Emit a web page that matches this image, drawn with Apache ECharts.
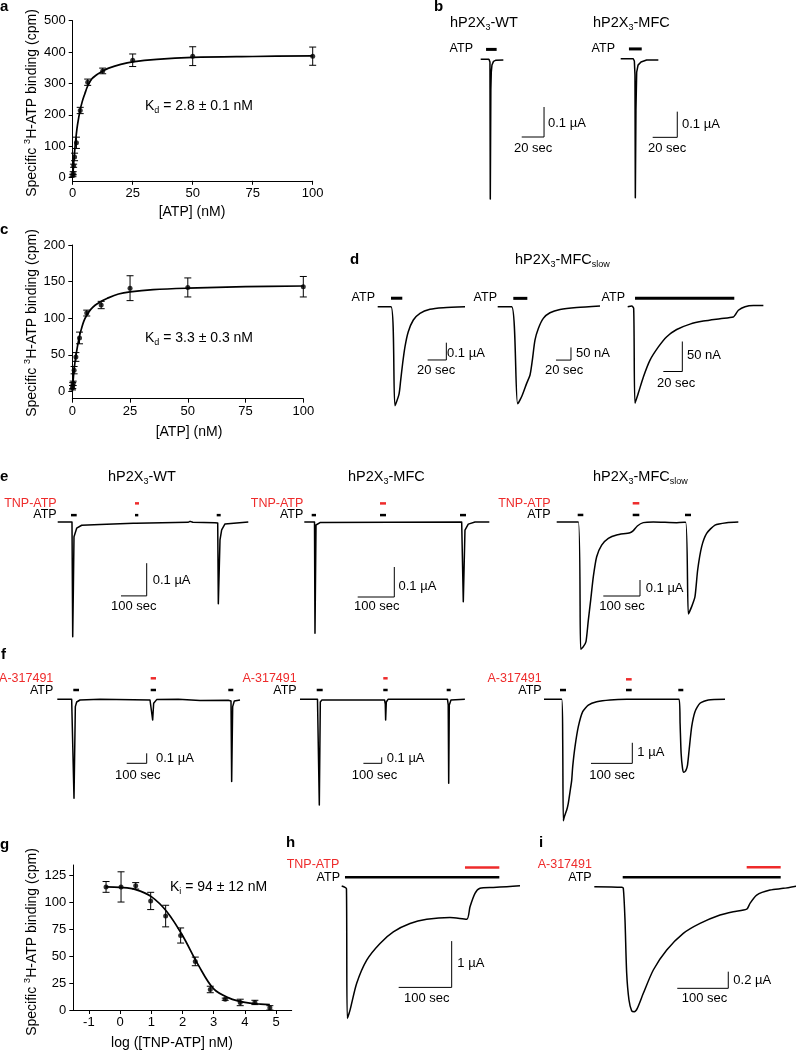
<!DOCTYPE html>
<html>
<head>
<meta charset="utf-8">
<script src="https://cdn.jsdelivr.net/npm/echarts@6/dist/echarts.min.js"></script>
<style>
html, body { margin: 0; padding: 0; background: #fff; }
#chart { width: 796px; height: 1050px; }
</style>
</head>
<body>
<div id="chart"></div>
<script>
// ---------- binding data (a, c, g) ----------
const atpNm = [0.1, 0.2, 0.39, 0.78, 1.56, 3.13, 6.25, 12.5, 25, 50, 100];
const wtBound = [7, 14, 38, 66, 111, 214, 304, 340, 374, 387, 387];
const wtSem = [4, 5, 5, 12, 18, 10, 10, 9, 20, 30, 29];
const mfcBound = [5, 8, 11, 29, 47, 73, 107, 118, 141, 142, 143];
const mfcSem = [3, 4, 3, 5, 6, 8, 4, 5, 17, 13, 14];
const fitNm = [0, 0.5, 1, 1.5, 2, 3, 4, 5, 6.25, 8, 10, 12.5, 15, 20, 25, 35, 50, 75, 100];
const wtFit = [0, 55, 100, 138, 168, 212, 243, 266, 292, 315, 328, 340, 349, 361, 369, 377, 383, 386, 388];
const mfcFit = [0, 20, 36, 47, 57, 74, 86, 96, 104, 112, 118, 123, 127, 133, 136, 139, 141, 143, 144];

const logTnp = [-0.45, 0.03, 0.50, 0.98, 1.46, 1.94, 2.41, 2.89, 3.37, 3.85, 4.32, 4.80];
const tnpBound = [114, 114, 115, 101, 87, 69, 45, 19, 10, 7, 7, 2];
const tnpSem = [5, 14, 3, 8, 10, 7, 4, 3, 1, 3, 2, 2];
const tnpFitX = [-0.45, 0, 0.5, 1, 1.5, 2, 2.5, 3, 3.5, 4, 4.5, 4.8];
const tnpFitY = [114, 113.5, 111.5, 105, 91, 69, 42, 19.5, 11, 7, 5.5, 5];

// ---------- current traces (time in sec, current in µA) ----------
const bWtT = [0, 7.4, 8.3, 8.6, 9.1, 9.5, 10.1, 11.5, 13.7, 20.3];
const bWtI = [0, 0, -0.009, -0.466, -0.1, -0.042, -0.019, -0.007, -0.003, -0.002];
const bMfcT = [0, 10.2, 11.1, 11.6, 11.9, 12.4, 13.0, 14.1, 16.5, 21.1, 30.6];
const bMfcI = [0, 0, -0.009, -0.063, -0.541, -0.2, -0.052, -0.025, -0.013, -0.005, -0.005];

const d1T = [0, 14.2, 18.5, 22.8, 24.6, 26.7, 29.2, 32.7, 38.1, 45.2, 55.9, 70.2, 93.4];
const d1I = [0, 0, -0.572, -0.505, -0.424, -0.327, -0.231, -0.145, -0.077, -0.038, -0.015, -0.006, 0];
const d2T = [0, 18.6, 26.6, 32, 38.6, 43.1, 46.2, 49.7, 54.2, 60.8, 69.7, 83.1, 105.3, 136.4];
const d2I = [0, 0, -0.384, -0.355, -0.303, -0.27, -0.211, -0.132, -0.086, -0.046, -0.024, -0.011, -0.003, 0.003];
const d3T = [0, 4.2, 6.3, 7.7, 11.2, 16.5, 23.5, 32.3, 41.1, 51.6, 65.6, 79.6, 97.2, 111.2, 113, 116.5, 123.5, 132.3, 142.8];
const d3I = [0, 0.001, -0.003, -0.161, -0.144, -0.117, -0.089, -0.067, -0.05, -0.038, -0.029, -0.024, -0.02, -0.017, -0.014, -0.006, 0, 0.002, 0.002];

const eWtT = [0, 55.6, 58.4, 61, 63.4, 73.9, 93.4, 164.6, 294, 305, 307, 310, 507, 515, 526, 612, 622.6, 625, 631.5, 638, 651, 741.6];
const eWtI = [0, 0, -0.351, -0.2, -0.045, -0.019, -0.01, -0.008, -0.004, -0.004, -0.009, -0.004, -0.001, 0.002, -0.001, -0.002, -0.003, -0.25, -0.055, -0.024, -0.006, 0];
const eMfcT = [0, 27.9, 29.2, 32, 42.9, 430, 433, 434.4, 439, 448, 466.4, 505.5];
const eMfcI = [0, 0, -0.371, -0.01, -0.002, 0, 0, -0.266, -0.027, -0.007, 0, 0];
const eSlowT = [0, 58.9, 65.3, 72.6, 79.8, 86.2, 92.6, 99.8, 108.9, 122.5, 140.7, 163.4, 199.7, 208.8, 219.7, 236, 263.3, 326.9, 351.4, 358.7, 367.8, 376.8, 384.1, 395, 408.6, 431.3, 463.1, 494.9];
const eSlowI = [0, 0, -0.796, -0.779, -0.748, -0.613, -0.488, -0.342, -0.217, -0.144, -0.102, -0.081, -0.067, -0.054, -0.025, -0.004, 0, -0.004, -0.002, -0.575, -0.529, -0.467, -0.3, -0.154, -0.071, -0.019, -0.004, 0];

const fWtT = [0, 71.8, 81.8, 83.5, 90.2, 96.8, 113.5, 213.5, 463.5, 471.8, 476.8, 481.8, 496.8, 605, 613.5, 713.5, 855, 868.5, 871.8, 876.8, 885, 913.5];
const fWtI = [0, 0, -0.007, -0.99, -0.073, -0.027, -0.007, 0, -0.007, -0.023, -0.207, -0.04, -0.003, 0, -0.013, -0.013, -0.01, -0.017, -0.823, -0.073, -0.017, -0.007];
const fMfcT = [0, 95.6, 102, 105.5, 111, 120, 462, 466, 468, 471.6, 481, 806, 810, 812.6, 815.8, 825, 901];
const fMfcI = [0, 0, -0.01, -1.76, -0.045, -0.01, -0.01, -0.08, -0.345, -0.045, 0, 0, -0.095, -1.4, -0.095, -0.01, 0];
const fSlowT = [0, 42.9, 45.3, 46.7, 49.2, 55, 58.8, 63.7, 67.1, 69.5, 75.1, 83.1, 93.7, 107.3, 127.6, 159.8, 200.2, 327.1, 329.5, 332, 335.4, 338.5, 343.3, 347.5, 351.4, 357.6, 365.6, 377.7, 397.8, 438.3];
const fSlowI = [0, 0, -1.98, -5.89, -5.7, -5.37, -5.05, -4.4, -3.92, -3.27, -2.3, -1.33, -0.6, -0.28, -0.12, -0.03, 0, 0, -1.17, -2.62, -3.35, -3.54, -3.46, -3.19, -2.46, -1.33, -0.6, -0.19, -0.03, 0];

const hT = [0, 6.2, 9, 10.6, 15.7, 28.3, 47.2, 72.3, 97.4, 128.9, 160.4, 204.3, 235.8, 242.1, 251.5, 260.9, 286, 311.3, 336.4];
const hI = [0, -0.03, -0.06, -2.86, -2.68, -2.1, -1.6, -1.24, -0.99, -0.81, -0.72, -0.68, -0.72, -0.45, -0.16, -0.05, -0.03, -0.015, 0.006];
const iT = [0, 53.7, 56.9, 60.2, 63.5, 68, 73.3, 78.4, 84.3, 96.1, 115.7, 142, 174.5, 207.3, 246.5, 272.5, 298.8, 305.3, 318.4, 344.5, 370.6, 396.9];
const iI = [0, -0.007, -0.019, -0.4, -1.04, -1.36, -1.49, -1.5, -1.46, -1.28, -1.0, -0.76, -0.56, -0.44, -0.34, -0.3, -0.27, -0.2, -0.1, -0.04, -0.02, 0.008];

// application windows (sec)
const bWtAtp = [[4.8, 14.3]];
const bMfcAtp = [[6.7, 17.1]];
const d1Atp = [[14.2, 26.3]];
const d2Atp = [[20.8, 39.5]];
const d3Atp = [[7.7, 112.2]];
const eWtAtp = [[51.8, 73.9], [300.8, 313.6], [618.7, 634.2]];
const eWtDrug = [[300.8, 316.3]];
const eMfcAtp = [[20.2, 32], [206.8, 223.2], [425.4, 441.8]];
const eMfcDrug = [[206.8, 223.2]];
const eSlowAtp = [[57.2, 72.5], [207.1, 225.1], [349.6, 366]];
const eSlowDrug = [[207.1, 225.1]];
const fWtAtp = [[80, 108.5], [467, 493.5], [855, 880]];
const fWtDrug = [[467, 493.5]];
const fMfcAtp = [[91.3, 124], [455, 479], [801.6, 823.5]];
const fMfcDrug = [[455, 479]];
const fSlowAtp = [[38.7, 53.3], [198.5, 212.3], [325.2, 337.3]];
const fSlowDrug = [[198.5, 212.3]];
const hAtp = [[6.2, 297.4]];
const hDrug = [[232.6, 297.4]];
const iAtp = [[55.7, 365.5]];
const iDrug = [[298.8, 365.5]];

// ---------- layout ----------
const W = 796, H = 1050;
const FONT = '"Liberation Sans", Arial, Helvetica, sans-serif';
const RED = '#ee2b2b';

const grids = [], xAxes = [], yAxes = [], series = [], graphics = [];

function bindingPanel(box, xr, yr) {
    const gi = grids.length;
    grids.push({ left: box[0], top: box[1], width: box[2], height: box[3] });
    const axisCommon = (r, margin) => ({
        type: 'value', gridIndex: gi, min: r.min, max: r.max,
        axisLine: { show: true, onZero: false, lineStyle: { color: '#000', width: 1 } },
        axisTick: { show: true, length: 4, lineStyle: { color: '#000', width: 1 }, customValues: r.ticks },
        axisLabel: { color: '#000', fontSize: 13, fontFamily: FONT, margin: margin, customValues: r.ticks },
        splitLine: { show: false }
    });
    xAxes.push(axisCommon(xr, 6));
    yAxes.push(axisCommon(yr, 7));
    return gi;
}

function bindingSeries(gi, xs, ys, errs, fitX, fitY) {
    series.push({
        type: 'custom', xAxisIndex: gi, yAxisIndex: gi, silent: true,
        data: xs.map((x, k) => [x, ys[k] - errs[k], ys[k] + errs[k]]),
        encode: { x: 0, y: [1, 2] },
        renderItem: function (params, api) {
            const lo = api.coord([api.value(0), api.value(1)]);
            const hi = api.coord([api.value(0), api.value(2)]);
            const w = 3.5;
            const st = { stroke: '#000', lineWidth: 1 };
            return {
                type: 'group', children: [
                    { type: 'line', shape: { x1: lo[0], y1: lo[1], x2: hi[0], y2: hi[1] }, style: st },
                    { type: 'line', shape: { x1: lo[0] - w, y1: lo[1], x2: lo[0] + w, y2: lo[1] }, style: st },
                    { type: 'line', shape: { x1: hi[0] - w, y1: hi[1], x2: hi[0] + w, y2: hi[1] }, style: st }
                ]
            };
        }
    });
    series.push({
        type: 'line', xAxisIndex: gi, yAxisIndex: gi, silent: true,
        data: fitX.map((x, k) => [x, fitY[k]]),
        symbol: 'none', smooth: 0.35,
        lineStyle: { color: '#000', width: 1.7 }
    });
    series.push({
        type: 'scatter', xAxisIndex: gi, yAxisIndex: gi, silent: true,
        data: xs.map((x, k) => [x, ys[k]]),
        symbol: 'circle', symbolSize: 5, itemStyle: { color: '#000' }
    });
}

// trace panel: x0/y0 = pixel of t=0, I=0; sx = px per sec, sy = px per µA
function tracePanel(p) {
    const gi = grids.length;
    grids.push({ left: 0, top: 0, width: W, height: H });
    xAxes.push({ type: 'value', gridIndex: gi, show: false, min: -p.x0 / p.sx, max: (W - p.x0) / p.sx, splitLine: { show: false } });
    yAxes.push({ type: 'value', gridIndex: gi, show: false, min: -(H - p.y0) / p.sy, max: p.y0 / p.sy, splitLine: { show: false } });
    series.push({
        type: 'line', xAxisIndex: gi, yAxisIndex: gi, silent: true,
        data: p.t.map((t, k) => [t, p.i[k]]),
        symbol: 'none', smooth: p.smooth || false,
        lineStyle: { color: '#000', width: 1.5, join: 'round' }
    });
    const bars = (list, level, color) => list.forEach(b => series.push({
        type: 'line', xAxisIndex: gi, yAxisIndex: gi, silent: true,
        data: [[b[0], level], [b[1], level]], symbol: 'none',
        lineStyle: { color: color, width: p.barW || 3, cap: 'butt' }
    }));
    bars(p.atp, p.atpY, '#000');
    if (p.drug) bars(p.drug, p.drugY, RED);
    const s = p.sb;
    series.push({
        type: 'line', xAxisIndex: gi, yAxisIndex: gi, silent: true,
        data: [[s[0], s[1]], [s[0] + s[2], s[1]], [s[0] + s[2], s[1] + s[3]]],
        symbol: 'none', lineStyle: { color: '#000', width: 1 }
    });
}

// ---------- panels a, c, g ----------
const ga = bindingPanel([72.7, 20.7, 240, 160.1],
    { min: 0, max: 100, ticks: [0, 25, 50, 75, 100] },
    { min: -10, max: 500, ticks: [0, 100, 200, 300, 400, 500] });
bindingSeries(ga, atpNm, wtBound, wtSem, fitNm, wtFit);

const gc = bindingPanel([72.3, 245, 231, 153.7],
    { min: 0, max: 100, ticks: [0, 25, 50, 75, 100] },
    { min: -10, max: 200, ticks: [0, 50, 100, 150, 200] });
bindingSeries(gc, atpNm, mfcBound, mfcSem, fitNm, mfcFit);

const gg = bindingPanel([73.3, 865, 218.4, 145],
    { min: -1.5, max: 5.5, ticks: [-1, 0, 1, 2, 3, 4, 5] },
    { min: 0, max: 134.3, ticks: [0, 25, 50, 75, 100, 125] });
bindingSeries(gg, logTnp, tnpBound, tnpSem, tnpFitX, tnpFitY);

// ---------- trace panels ----------
tracePanel({ x0: 480.7, y0: 59.3, sx: 1.115, sy: 300, t: bWtT, i: bWtI, atp: bWtAtp, atpY: 0.033, sb: [36.8, -0.259, 20, 0.1] });
tracePanel({ x0: 620.7, y0: 58.7, sx: 1.23, sy: 257, t: bMfcT, i: bMfcI, atp: bMfcAtp, atpY: 0.038, sb: [26, -0.306, 20, 0.1] });

tracePanel({ x0: 377.7, y0: 306.7, sx: 0.935, sy: 173, t: d1T, i: d1I, smooth: 0.25, atp: d1Atp, atpY: 0.049, sb: [53.4, -0.308, 20, 0.1] });
tracePanel({ x0: 497.7, y0: 306.7, sx: 0.75, sy: 253, t: d2T, i: d2I, smooth: 0.25, atp: d2Atp, atpY: 0.033, sb: [77.7, -0.211, 20, 0.05] });
tracePanel({ x0: 627.7, y0: 306.7, sx: 0.95, sy: 600, t: d3T, i: d3I, smooth: 0.25, atp: d3Atp, atpY: 0.014, sb: [37.5, -0.108, 20, 0.05] });

tracePanel({ x0: 57.7, y0: 522, sx: 0.257, sy: 327, t: eWtT, i: eWtI, atp: eWtAtp, atpY: 0.021, drug: eWtDrug, drugY: 0.057, barW: 2.5, sb: [246.3, -0.226, 100, 0.1] });
tracePanel({ x0: 304.3, y0: 522, sx: 0.366, sy: 300, t: eMfcT, i: eMfcI, atp: eMfcAtp, atpY: 0.023, drug: eMfcDrug, drugY: 0.062, barW: 2.5, sb: [145.9, -0.25, 100, 0.1] });
tracePanel({ x0: 556.7, y0: 522, sx: 0.367, sy: 160, t: eSlowT, i: eSlowI, smooth: 0.2, atp: eSlowAtp, atpY: 0.044, drug: eSlowDrug, drugY: 0.117, barW: 2.5, sb: [127, -0.4625, 100, 0.1] });

tracePanel({ x0: 57.3, y0: 699.3, sx: 0.2, sy: 100, t: fWtT, i: fWtI, atp: fWtAtp, atpY: 0.093, drug: fWtDrug, drugY: 0.21, barW: 2.5, sb: [347, -0.64, 100, 0.1] });
tracePanel({ x0: 300, y0: 699.3, sx: 0.183, sy: 60, t: fMfcT, i: fMfcI, atp: fMfcAtp, atpY: 0.155, drug: fMfcDrug, drugY: 0.35, barW: 2.5, sb: [346.4, -1.067, 100, 0.1] });
tracePanel({ x0: 544, y0: 699.3, sx: 0.413, sy: 20.6, t: fSlowT, i: fSlowI, smooth: 0.2, atp: fSlowAtp, atpY: 0.45, drug: fSlowDrug, drugY: 0.97, barW: 2.5, sb: [113.8, -3.11, 100, 1] });

tracePanel({ x0: 341.7, y0: 886, sx: 0.53, sy: 46.3, t: hT, i: hI, smooth: 0.25, atp: hAtp, atpY: 0.19, drug: hDrug, drugY: 0.40, barW: 2.5, sb: [107.5, -2.19, 100, 1] });
tracePanel({ x0: 594.3, y0: 886.7, sx: 0.51, sy: 83.3, t: iT, i: iI, smooth: 0.25, atp: iAtp, atpY: 0.113, drug: iDrug, drugY: 0.233, barW: 2.5, sb: [162.7, -1.22, 100, 0.2] });

// ---------- texts ----------
function label(x, y, text, o) {
    graphics.push({
        type: 'text', x: x, y: y, silent: true, rotation: (o && o.rot) || 0,
        style: Object.assign({ text: text, fill: '#000', fontFamily: FONT, fontSize: 13, align: 'left', verticalAlign: 'middle' }, o || {})
    });
}
const rich = (size) => ({
    n: { fontSize: size, fontFamily: FONT, lineHeight: size + 4, fill: '#000' },
    s: { fontSize: Math.round(size * 0.62), fontFamily: FONT, lineHeight: Math.round(size * 0.62), verticalAlign: 'bottom', fill: '#000' },
    p: { fontSize: Math.round(size * 0.62), fontFamily: FONT, lineHeight: Math.round(size * 0.62), verticalAlign: 'top', fill: '#000' }
});
const bold = { fontSize: 15, fontWeight: 'bold' };

[['a', 0, 7], ['b', 434, 7], ['c', 0, 230], ['d', 350, 260], ['e', 0, 477], ['f', 1, 655], ['g', 0, 845], ['h', 286, 843], ['i', 539, 843]]
    .forEach(l => label(l[1], l[2], l[0], bold));

const titleWt = '{n|hP2X}{s|3}{n|-WT}';
const titleMfc = '{n|hP2X}{s|3}{n|-MFC}';
const titleSlow = '{n|hP2X}{s|3}{n|-MFC}{s|slow}';
[[450, 23, titleWt], [593, 23, titleMfc], [515, 260, titleSlow], [108, 477, titleWt], [348, 477, titleMfc], [593, 477, titleSlow]]
    .forEach(t => label(t[0], t[1], t[2], { rich: rich(14.5) }));

const right = { align: 'right', fontSize: 12.5 };
const redRight = { align: 'right', fontSize: 12.5, fill: RED };
[[473, 49], [615, 49], [375, 298], [497, 298], [625, 298], [56.7, 515], [303.3, 515], [550.7, 515], [53.3, 691], [296.7, 691], [541.7, 691], [340, 877.3], [591.7, 877.3]]
    .forEach(p => label(p[0], p[1], 'ATP', right));
[[56.7, 503.3], [303.3, 503.3], [550.7, 503.3]].forEach(p => label(p[0], p[1], 'TNP-ATP', redRight));
[[53.3, 678.3], [296.7, 678.3], [541.7, 678.3]].forEach(p => label(p[0], p[1], 'A-317491', redRight));
label(286.7, 865, 'TNP-ATP', { fontSize: 12.5, fill: RED });
label(537.7, 865, 'A-317491', { fontSize: 12.5, fill: RED });

[[548, 123, '0.1 µA'], [514, 148, '20 sec'], [682, 124, '0.1 µA'], [648, 148, '20 sec'],
 [447, 353, '0.1 µA'], [417, 370, '20 sec'], [576, 353, '50 nA'], [545, 370, '20 sec'], [687, 355, '50 nA'], [657, 383, '20 sec'],
 [152.7, 580, '0.1 µA'], [111, 606.7, '100 sec'], [398.5, 586.7, '0.1 µA'], [354, 606.7, '100 sec'], [645.7, 588.3, '0.1 µA'], [599.3, 606.7, '100 sec'],
 [156, 758.3, '0.1 µA'], [115, 775, '100 sec'], [386.7, 758.3, '0.1 µA'], [351.7, 775, '100 sec'], [637.3, 752.7, '1 µA'], [589.3, 775, '100 sec'],
 [457.3, 963.3, '1 µA'], [404, 998.3, '100 sec'], [733.3, 980, '0.2 µA'], [681.7, 998.3, '100 sec']]
    .forEach(t => label(t[0], t[1], t[2], { fontSize: 13 }));

label(145, 106, '{n|K}{s|d}{n| = 2.8 ± 0.1 nM}', { rich: rich(14) });
label(145, 338, '{n|K}{s|d}{n| = 3.3 ± 0.3 nM}', { rich: rich(14) });
label(170, 887, '{n|K}{s|i}{n| = 94 ± 12 nM}', { rich: rich(14) });

const center = { align: 'center', fontSize: 14 };
label(192, 212, '[ATP] (nM)', center);
label(189, 432, '[ATP] (nM)', center);
label(172, 1043, 'log ([TNP-ATP] nM)', center);
const yName = '{n|Specific }{p|3}{n|H-ATP binding (cpm)}';
[[32, 103], [32, 323], [32, 942]].forEach(p => label(p[0], p[1], yName, { align: 'center', rich: rich(14), rot: Math.PI / 2 }));

// ---------- chart ----------
const chart = echarts.init(document.getElementById('chart'));
chart.setOption({
    animation: false,
    backgroundColor: '#fff',
    grid: grids,
    xAxis: xAxes,
    yAxis: yAxes,
    series: series,
    graphic: graphics
});
</script>
</body>
</html>
